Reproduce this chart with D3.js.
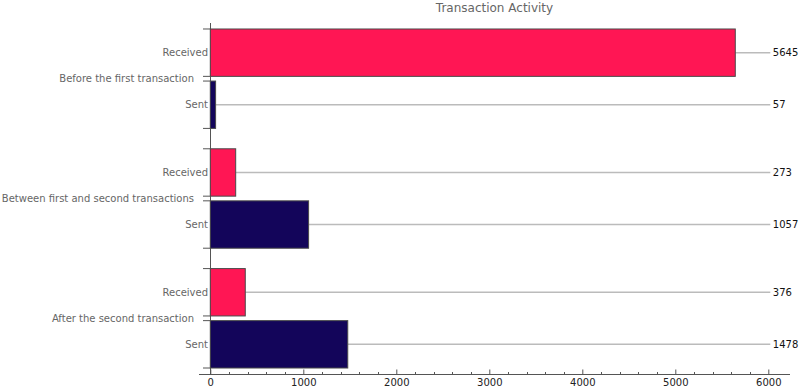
<!DOCTYPE html>
<html>
<head>
<meta charset="utf-8">
<script src="https://cdn.jsdelivr.net/npm/d3@7"></script>
<style>
  html, body { margin: 0; padding: 0; background: #fff; }
  svg { display: block; font-family: "DejaVu Sans", sans-serif; }
</style>
</head>
<body>
<svg id="chart" width="800" height="391"></svg>
<script>
const title = "Transaction Activity";
const groups = ["Before the first transaction", "Between first and second transactions", "After the second transaction"];
const seriesNames = ["Received", "Sent"];
const received = [5645, 273, 376];
const sent = [57, 1057, 1478];
const xTicks = [0, 1000, 2000, 3000, 4000, 5000, 6000];
const seriesColors = ["#ff1654", "#13055a"];

const data = groups.map((g, i) => ({ group: g, values: [received[i], sent[i]] }));

const svg = d3.select("#chart");

const x = d3.scaleLinear().domain([0, 6000]).range([210.3, 768.3]);
const y0 = d3.scaleBand().domain(groups).range([23, 374]).paddingInner(0.17).paddingOuter(0.05);
const y1 = d3.scaleBand().domain(seriesNames).range([0, y0.bandwidth()]).paddingInner(0.09);

// Title
svg.append("text")
  .attr("x", 494.5).attr("y", 12)
  .attr("text-anchor", "middle")
  .attr("font-size", 12).attr("fill", "#666")
  .text(title);

// X axis
const xAxisG = svg.append("g").attr("transform", "translate(0,374.5)");
const minor = d3.range(0, 6001, 200).filter(v => v % 1000 !== 0);
xAxisG.selectAll("line.minor").data(minor).enter().append("line")
  .attr("class", "minor")
  .attr("x1", d => Math.round(x(d)) + 0.5).attr("x2", d => Math.round(x(d)) + 0.5)
  .attr("y1", 0).attr("y2", -2.5)
  .attr("stroke", "#555").attr("stroke-width", 1);
const xAxis = d3.axisBottom(x).tickValues(xTicks).tickFormat(d3.format("d"))
  .tickSizeInner(-5).tickSizeOuter(0).tickPadding(4);
xAxisG.call(xAxis);
xAxisG.select(".domain").remove();
xAxisG.selectAll(".tick line").attr("stroke", "#555");
xAxisG.selectAll(".tick text").attr("font-size", 10).attr("fill", "#222").attr("font-family", "DejaVu Sans, sans-serif");
xAxisG.append("line")
  .attr("x1", 199).attr("x2", 790).attr("y1", 0).attr("y2", 0)
  .attr("stroke", "#555").attr("stroke-width", 1);

// Y axis line
svg.append("line")
  .attr("x1", 210.5).attr("x2", 210.5).attr("y1", 23).attr("y2", 374)
  .attr("stroke", "#555").attr("stroke-width", 1);

const gGroups = svg.selectAll("g.grp").data(data).enter().append("g")
  .attr("class", "grp")
  .attr("transform", d => `translate(0,${y0(d.group)})`);

// leader lines
gGroups.selectAll("line.lead").data(d => d.values.map((v, i) => ({ s: seriesNames[i], v }))).enter()
  .append("line").attr("class", "lead")
  .attr("x1", d => x(d.v)).attr("x2", x(6000) + 2)
  .attr("y1", d => y1(d.s) + y1.bandwidth() / 2).attr("y2", d => y1(d.s) + y1.bandwidth() / 2)
  .attr("stroke", "#bbb").attr("stroke-width", 1.5);

// bars
gGroups.selectAll("rect").data(d => d.values.map((v, i) => ({ s: seriesNames[i], v, i }))).enter()
  .append("rect")
  .attr("x", x(0)).attr("y", d => y1(d.s))
  .attr("width", d => x(d.v) - x(0)).attr("height", y1.bandwidth())
  .attr("fill", d => seriesColors[d.i])
  .attr("stroke", "#4a4a4a").attr("stroke-width", 1);

// y ticks at bar edges
gGroups.selectAll("line.ytick").data(d => seriesNames.flatMap(s => [y1(s), y1(s) + y1.bandwidth()])).enter()
  .append("line").attr("class", "ytick")
  .attr("x1", 203).attr("x2", 210.5)
  .attr("y1", d => d).attr("y2", d => d)
  .attr("stroke", "#555").attr("stroke-width", 1);

// value labels
gGroups.selectAll("text.val").data(d => d.values.map((v, i) => ({ s: seriesNames[i], v }))).enter()
  .append("text").attr("class", "val")
  .attr("x", x(6000) + 4.5)
  .attr("y", d => y1(d.s) + y1.bandwidth() / 2)
  .attr("dy", "0.35em")
  .attr("font-size", 10).attr("fill", "#111")
  .text(d => d.v);

// series labels
gGroups.selectAll("text.ser").data(seriesNames).enter()
  .append("text").attr("class", "ser")
  .attr("x", 208)
  .attr("y", d => y1(d) + y1.bandwidth() / 2)
  .attr("dy", "0.35em")
  .attr("text-anchor", "end")
  .attr("font-size", 10).attr("fill", "#666")
  .text(d => d);

// group labels
gGroups.append("text")
  .attr("x", 194)
  .attr("y", y0.bandwidth() / 2)
  .attr("dy", "0.35em")
  .attr("text-anchor", "end")
  .attr("font-size", 10).attr("fill", "#666")
  .text(d => d.group);
</script>
</body>
</html>
